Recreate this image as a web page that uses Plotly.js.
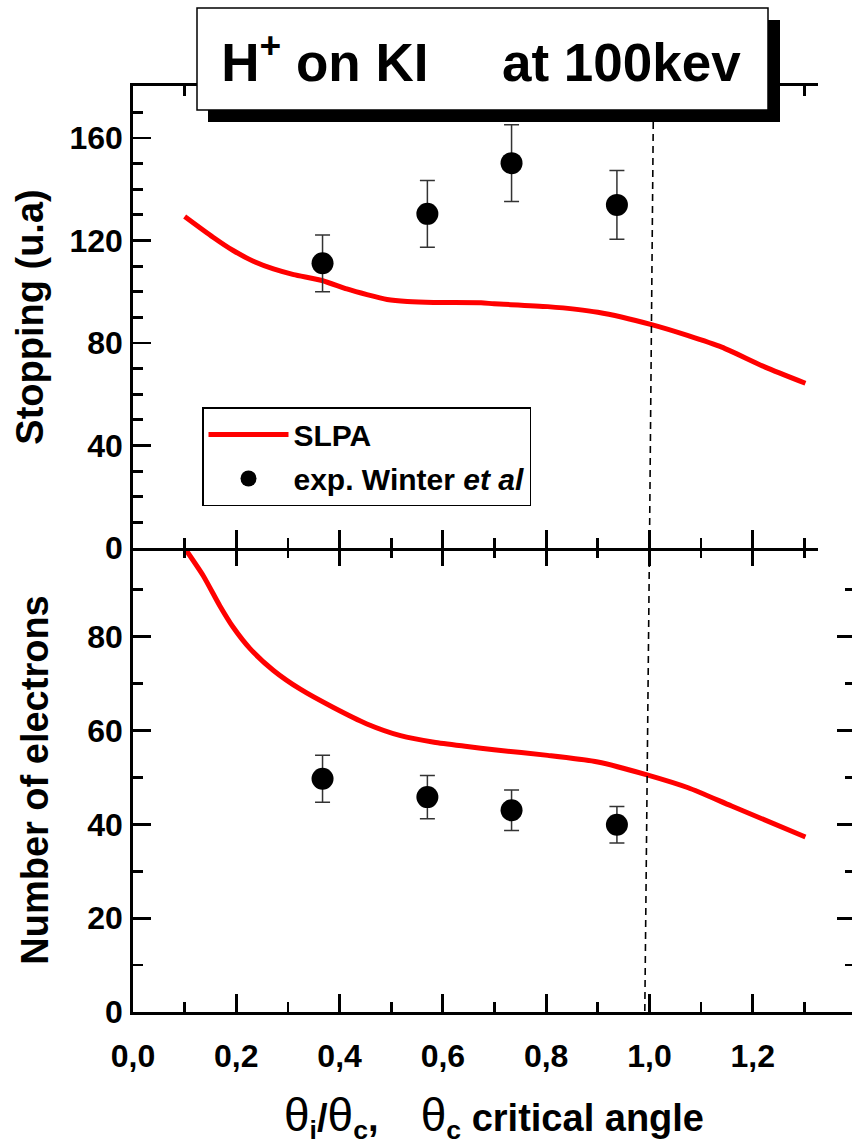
<!DOCTYPE html>
<html>
<head>
<meta charset="utf-8">
<script src="https://cdn.plot.ly/plotly-3.0.1.min.js"></script>
<style>
html,body{margin:0;padding:0;overflow:hidden;background:#fff;}
#chart{width:858px;height:1148px;}
</style>
</head>
<body>
<div id="chart"></div>
<script>
// ---- data ----
const slpaStopX = [0.100,0.155,0.194,0.233,0.272,0.311,0.366,0.414,0.453,0.492,0.531,0.582,0.674,0.699,0.803,0.900,1.004,1.075,1.140,1.224,1.302];
const slpaStopY = [129.4,121.3,116.1,111.9,108.9,106.7,104.4,101.1,98.9,97.0,96.2,95.8,95.7,95.3,94.2,92.0,87.2,82.9,78.4,70.6,64.3];
const slpaElecX = [0.100,0.136,0.168,0.194,0.227,0.272,0.324,0.388,0.453,0.518,0.583,0.647,0.699,0.803,0.900,0.997,1.075,1.159,1.302];
const slpaElecY = [98.9,93.0,86.6,82.0,77.4,72.8,68.8,64.9,61.4,58.9,57.5,56.6,55.9,54.7,53.3,50.5,47.8,43.9,37.3];
const expX = [0.367,0.570,0.733,0.937];
const expStop = [111.1,130.4,150.2,133.9];
const expStopErr = [11.1,13.0,15.0,13.4];
const expElec = [49.7,45.8,43.0,39.9];
const expElecErr = [5.0,4.6,4.3,3.9];
const critTopX = [1.008,1.000];
const critTopY = [180.3,0];
const critBotX = [1.000,0.991];
const critBotY = [98.9,0];
const seriesNames = ['SLPA','exp. Winter <i>et al</i>'];
const titleText = 'H<sup>+</sup> on KI\u00a0\u00a0\u00a0\u00a0 at 100kev';
const yTitleTop = 'Stopping (u.a)';
const yTitleBot = 'Number of electrons';
const TH = '<span style="font-weight:normal;font-size:46px">θ</span>';
const xTitle = TH + '<sub>i</sub>/' + TH + '<sub>c</sub>,\u00a0\u00a0\u00a0\u00a0' + TH + '<sub>c</sub> critical angle';

// ---- layout helpers ----
const W = 858, H = 1148;
const px = v => v / W;
const py = v => 1 - v / H;
const FONT = 'Liberation Sans, Arial, Helvetica, sans-serif';

const traces = [
  {x: slpaStopX, y: slpaStopY, xaxis:'x2', yaxis:'y2', mode:'lines', name: seriesNames[0],
   line:{color:'#ff0000', width:5, shape:'spline', smoothing:0.6}, legendgroup:'a'},
  {x: expX, y: expStop, xaxis:'x2', yaxis:'y2', mode:'markers', name: seriesNames[1],
   marker:{color:'#000', size:22},
   error_y:{type:'data', array: expStopErr, visible:true, color:'#333', thickness:1.5, width:7.5},
   legendgroup:'b'},
  {x: critTopX, y: critTopY, xaxis:'x2', yaxis:'y2', mode:'lines', showlegend:false,
   line:{color:'#000', width:1.6, dash:'7px,5px'}},
  {x: slpaElecX, y: slpaElecY, xaxis:'x', yaxis:'y', mode:'lines', showlegend:false,
   line:{color:'#ff0000', width:5, shape:'spline', smoothing:0.6}},
  {x: expX, y: expElec, xaxis:'x', yaxis:'y', mode:'markers', showlegend:false,
   marker:{color:'#000', size:22},
   error_y:{type:'data', array: expElecErr, visible:true, color:'#333', thickness:1.5, width:7.5}},
  {x: critBotX, y: critBotY, xaxis:'x3', yaxis:'y', mode:'lines', showlegend:false,
   line:{color:'#000', width:1.6, dash:'7px,5px'}}
];

const tickFont = {family: FONT, size: 32, color:'#000', weight:'bold'};
const axisLine = {showline:true, linecolor:'#000', linewidth:2.8, zeroline:false, showgrid:false};
const scale = (855-133)/1.398;

const layout = {
  width: W, height: H,
  margin:{l:0, r:0, t:0, b:0, autoexpand:false},
  paper_bgcolor:'#fff', plot_bgcolor:'rgba(0,0,0,0)',
  separators: ',.',
  showlegend: true,
  font:{family: FONT, color:'#000'},
  title:{text: titleText, x: px(481), xanchor:'center', y: py(62), yanchor:'middle',
         font:{family: FONT, size:53, color:'#000', weight:'bold'}},
  // bottom panel
  xaxis: Object.assign({}, axisLine, {
    domain:[px(133), px(855)], range:[0, 1.398], anchor:'y',
    ticks:'inside', ticklen:18, tickwidth:2.8, tickcolor:'#000',
    dtick:0.2, tick0:0, tickformat:'.1f', tickfont: tickFont, ticklabelstandoff: 14,
    minor:{dtick:0.1, tick0:0, ticks:'inside', ticklen:10, tickwidth:2.8, tickcolor:'#000'},
    title:{text: xTitle, standoff: 32, font:{family: FONT, size:38, color:'#000', weight:'bold'}}
  }),
  xaxis3: {
    overlaying:'x', anchor:'y', side:'top', range:[0, 1.398], showline:false, zeroline:false, showgrid:false,
    ticks:'inside', ticklen:18, tickwidth:2.8, tickcolor:'#000', dtick:0.2, tick0:0, showticklabels:false,
    minor:{dtick:0.1, tick0:0, ticks:'inside', ticklen:10, tickwidth:2.8, tickcolor:'#000'}
  },
  yaxis: Object.assign({}, axisLine, {
    domain:[py(1012), py(548)], range:[0, 98.9], anchor:'x', mirror:'ticks',
    ticks:'inside', ticklen:18, tickwidth:2.8, tickcolor:'#000', dtick:20, tick0:0,
    tickfont: tickFont, ticklabelstandoff: 1,
    minor:{dtick:10, tick0:0, ticks:'inside', ticklen:10, tickwidth:2.8, tickcolor:'#000'},
    title:{text: yTitleBot, standoff: 27, font:{family: FONT, size:38, color:'#000', weight:'bold'}}
  }),
  // top panel
  xaxis2: Object.assign({}, axisLine, {
    domain:[px(133), px(818)], range:[0, (818-133)/scale], anchor:'y2', mirror:'ticks',
    ticks:'inside', ticklen:18, tickwidth:2.8, tickcolor:'#000', dtick:0.2, tick0:0, showticklabels:false,
    minor:{dtick:0.1, tick0:0, ticks:'inside', ticklen:10, tickwidth:2.8, tickcolor:'#000'}
  }),
  yaxis2: Object.assign({}, axisLine, {
    domain:[py(548), py(86)], range:[0, 180.3], anchor:'x2',
    ticks:'inside', ticklen:18, tickwidth:2.8, tickcolor:'#000', dtick:40, tick0:0,
    tickfont: tickFont, ticklabelstandoff: 1,
    minor:{dtick:10, tick0:0, ticks:'inside', ticklen:10, tickwidth:2.8, tickcolor:'#000'},
    title:{text: yTitleTop, standoff: 15, font:{family: FONT, size:38, color:'#000', weight:'bold'}}
  }),
  legend:{x: px(202), xanchor:'left', y: py(407), yanchor:'top',
    bgcolor:'#fff', bordercolor:'#000', borderwidth:1.5,
    font:{family: FONT, size:30, color:'#000', weight:'bold'},
    traceorder:'grouped', tracegroupgap: 2, itemwidth: 80},
  shapes:[
    {type:'rect', xref:'paper', yref:'paper', x0:px(208), x1:px(780), y0:py(122), y1:py(20),
     fillcolor:'#000', line:{width:0}, layer:'above'},
    {type:'rect', xref:'paper', yref:'paper', x0:px(197), x1:px(768), y0:py(110), y1:py(8),
     fillcolor:'#fff', line:{color:'#000', width:1.5}, layer:'above'}
  ]
};

Plotly.newPlot('chart', traces, layout, {displayModeBar:false, staticPlot:true});
</script>
</body>
</html>
